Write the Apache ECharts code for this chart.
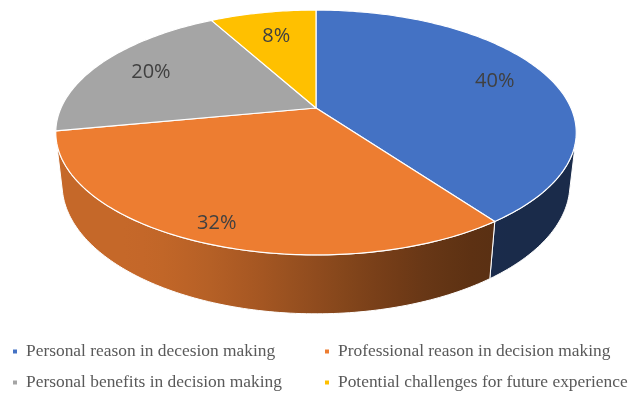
<!DOCTYPE html>
<html>
<head>
<meta charset="utf-8">
<script src="https://cdn.jsdelivr.net/npm/echarts@6/dist/echarts.min.js"></script>
<style>
  html, body { margin: 0; padding: 0; background: #ffffff; }
  #chart { width: 632px; height: 396px; }
</style>
</head>
<body>
<div id="chart"></div>
<script>
// Survey shares, in percent, drawn clockwise from 12 o'clock
const categories = [
  'Personal reason in decesion making',
  'Professional reason in decision making',
  'Personal benefits in decision making',
  'Potential challenges for future experience'
];
const shares = [40, 32, 20, 8];
const sliceColors = ['#4472C4', '#ED7D31', '#A5A5A5', '#FFC000'];

const total = shares.reduce((a, b) => a + b, 0);

// Perspective view of a flat cylinder (unit radius, thickness H)
const CX = 316, CY = 108, K = 255;
const S = 0.461, C = Math.sqrt(1 - S * S);
const D = 4.44, H = 0.23;
const RAD = Math.PI / 180;

function proj(phi, Y, r) {
  r = r == null ? 1 : r;
  const X = r * Math.sin(phi * RAD), Z = r * Math.cos(phi * RAD);
  const u = Y * C + Z * S;
  const w = Z * C - Y * S;
  const s = D / (D + w);
  return [CX + K * X * s, CY - K * u * s];
}

// Front wall is visible between the two silhouette generators
const half = Math.acos(1 / (D * C)) / RAD;
const visLo = 180 - half, visHi = 180 + half;

function hexToRgb(h) {
  const n = parseInt(h.slice(1), 16);
  return [(n >> 16) & 255, (n >> 8) & 255, n & 255];
}
function shade(hex, f) {
  const c = hexToRgb(hex).map(v => Math.round(v * f));
  return 'rgb(' + c.join(',') + ')';
}
function smooth(a, b, t) {
  const x = Math.min(1, Math.max(0, (t - a) / (b - a)));
  return x * x * (3 - 2 * x);
}
// Wall brightness: dark on the right, lit from the left
function wallLight(phi) {
  const t = (phi - visLo) / (visHi - visLo);
  return 0.38 + 0.45 * smooth(0.25, 0.75, t);
}

function arc(a, b, Y, r) {
  const pts = [];
  const n = Math.max(2, Math.ceil(Math.abs(b - a)));
  for (let j = 0; j <= n; j++) pts.push(proj(a + (b - a) * j / n, Y, r));
  return pts;
}

function renderSlice(params, api) {
  const i = params.seriesIndex;
  const value = api.value(0);
  let before = 0;
  for (let j = 0; j < i; j++) before += shares[j];
  const a = before / total * 360;
  const b = (before + value) / total * 360;
  const color = sliceColors[i];
  const children = [];

  // outer wall
  const wa = Math.max(a, visLo), wb = Math.min(b, visHi);
  if (wb > wa) {
    const top = arc(wa, wb, 0);
    const bottom = arc(wb, wa, -H);
    const xL = proj(visHi, 0)[0], xR = proj(visLo, 0)[0];
    const stops = [];
    for (let p = visLo; p <= visHi + 0.001; p += 5) {
      const x = proj(p, 0)[0];
      stops.push({ offset: (x - xL) / (xR - xL), color: shade(color, wallLight(p)) });
    }
    stops.sort((m, n) => m.offset - n.offset);
    children.push({
      type: 'polygon',
      z2: 1,
      shape: { points: top.concat(bottom) },
      style: {
        fill: { type: 'linear', x: xL, y: 0, x2: xR, y2: 0, colorStops: stops, global: true },
        stroke: '#ffffff',
        lineWidth: 1
      }
    });
  }

  // top face
  const face = [proj(0, 0, 0)].concat(arc(a, b, 0));
  children.push({
    type: 'polygon',
    z2: 10,
    shape: { points: face },
    style: { fill: color, stroke: '#ffffff', lineWidth: 1.2, lineJoin: 'round' }
  });

  // percent label
  const mid = (a + b) / 2;
  const zMid = Math.cos(mid * RAD);
  const lp = proj(mid, 0, 0.80 - 0.09 * zMid);
  children.push({
    type: 'text',
    z2: 20,
    style: {
      text: Math.round(value / total * 100) + '%',
      x: lp[0], y: lp[1],
      align: 'center', verticalAlign: 'middle',
      fontFamily: 'Open Sans', fontSize: 20,
      fill: '#404040'
    }
  });

  return { type: 'group', children: children };
}

const legendText = {
  fontFamily: 'Liberation Serif',
  fontSize: 17.4,
  color: '#595959',
  padding: [0, 0, 0, 4]
};

const option = {
  backgroundColor: '#ffffff',
  animation: false,
  color: sliceColors,
  legend: [
    {
      orient: 'vertical', left: 13, top: 343, padding: 0,
      itemGap: 14, itemWidth: 4, itemHeight: 4, icon: 'rect',
      data: [categories[0], categories[2]],
      textStyle: legendText
    },
    {
      orient: 'vertical', left: 325, top: 343, padding: 0,
      itemGap: 14, itemWidth: 4, itemHeight: 4, icon: 'rect',
      data: [categories[1], categories[3]],
      textStyle: legendText
    }
  ],
  series: categories.map((name, i) => ({
    type: 'custom',
    name: name,
    coordinateSystem: 'none',
    silent: true,
    itemStyle: { color: sliceColors[i] },
    renderItem: renderSlice,
    data: [[shares[i]]]
  }))
};

const chart = echarts.init(document.getElementById('chart'), null, { renderer: 'canvas' });
chart.setOption(option);
</script>
</body>
</html>
